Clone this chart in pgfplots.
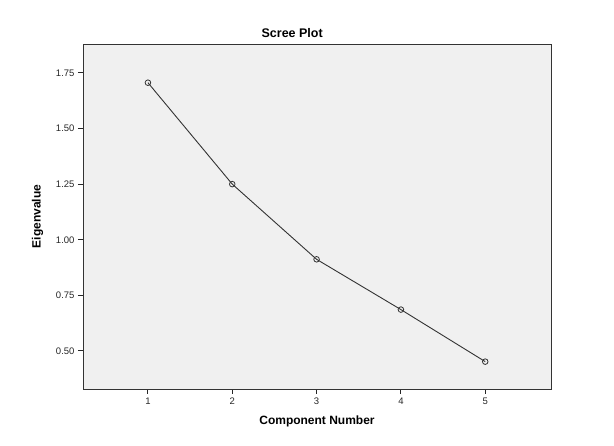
\documentclass[border=0pt]{standalone}
\usepackage{pgfplots}
\pgfplotsset{compat=1.18}
\usepackage{fontspec}
\setmainfont{Liberation Sans}
\definecolor{plotbg}{HTML}{F0F0F0}
\definecolor{lineclr}{HTML}{333333}
\begin{document}
\begin{tikzpicture}[x=1pt,y=1pt]
\useasboundingbox (0,0) rectangle (614,446);
\begin{axis}[
  at={(83pt,57pt)}, anchor=south west,
  scale only axis,
  width=468pt, height=345pt,
  xmin=0.23, xmax=5.78,
  ymin=0.329, ymax=1.88,
  xtick={1,2,3,4,5},
  ytick={0.5,0.75,1,1.25,1.5,1.75},
  yticklabel style={/pgf/number format/.cd, fixed, fixed zerofill, precision=2},
  /pgf/number format/assume math mode=true,
  tick label style={font=\fontsize{9.5}{11}\selectfont, color=black!85},
  tickpos=left,
  tick align=outside,
  major tick length=5pt,
  tick style={black!85, line width=1pt},
  axis line style={black!80, line width=0.9pt},
  axis background/.style={fill=plotbg},
  title={\bfseries Scree Plot},
  title style={font=\fontsize{12.5}{14}\selectfont, at={(axis description cs:0.447,1)}, yshift=-3pt},
  xlabel={\bfseries Component Number},
  ylabel={\bfseries Eigenvalue},
  label style={font=\fontsize{12}{14}\selectfont},
  xlabel style={yshift=-5pt},
  ylabel style={yshift=6pt},
]
\addplot[color=lineclr, line width=0.9pt, mark=o, mark size=2.8pt,
  mark options={line width=0.8pt}] coordinates {
  (1,1.706) (2,1.250) (3,0.912) (4,0.686) (5,0.452)
};
\end{axis}
\end{tikzpicture}
\end{document}
